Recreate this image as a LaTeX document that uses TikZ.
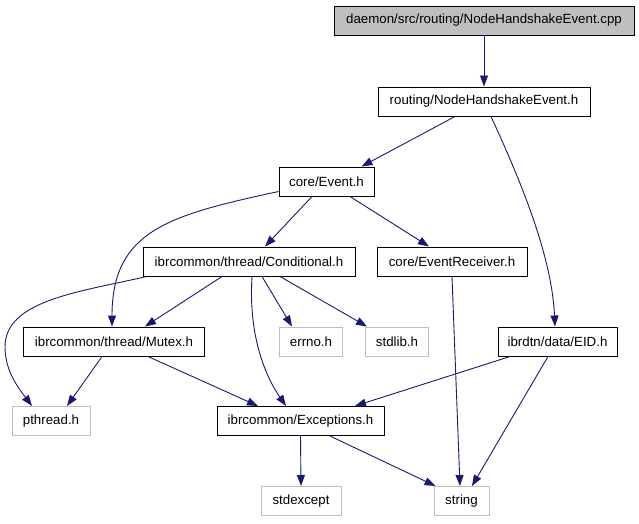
\documentclass[tikz,border=0pt]{standalone}
\usepackage{fontspec}
\setmainfont{Liberation Sans}
\usetikzlibrary{arrows.meta}
\definecolor{edgeblue}{HTML}{191970}
\definecolor{sysgray}{HTML}{BFBFBF}
\tikzset{
  hdr/.style={draw=black, line width=1pt, minimum height=29pt, inner sep=0pt, font=\fontsize{13.3}{15}\selectfont},
  sys/.style={draw=sysgray, line width=1pt, minimum height=29pt, inner sep=0pt, font=\fontsize{13.3}{15}\selectfont},
  root/.style={hdr, fill=sysgray},
  dep/.style={draw=edgeblue, line width=0.9pt, -{Triangle[length=11pt,width=8pt]}},
}
\begin{document}
\begin{tikzpicture}[x=1pt,y=-1pt]
\useasboundingbox (0,0) rectangle (639,523);
\node[root, minimum width=300pt] (cpp) at (484,20.5) {daemon/src/routing/NodeHandshakeEvent.cpp};
\node[hdr, minimum width=212pt] (nhe) at (484,101.5) {routing/NodeHandshakeEvent.h};
\node[hdr, minimum width=95pt] (event) at (326.5,181.5) {core/Event.h};
\node[hdr, minimum width=212pt] (cond) at (249,261.5) {ibrcommon/thread/Conditional.h};
\node[hdr, minimum width=150pt] (recv) at (452,261.5) {core/EventReceiver.h};
\node[hdr, minimum width=181pt] (mutex) at (114,341.5) {ibrcommon/thread/Mutex.h};
\node[sys, minimum width=63pt] (errno) at (311,341.5) {errno.h};
\node[sys, minimum width=63pt] (stdlib) at (397,341.5) {stdlib.h};
\node[hdr, minimum width=119pt] (eid) at (557.5,341.5) {ibrdtn/data/EID.h};
\node[sys, minimum width=78pt] (pthread) at (51,421) {pthread.h};
\node[hdr, minimum width=167pt] (exc) at (300.5,421) {ibrcommon/Exceptions.h};
\node[sys, minimum width=80pt] (stdexcept) at (301,501) {stdexcept};
\node[sys, minimum width=55pt] (string) at (461.5,501) {string};

\draw[dep] (cpp.south) -- (nhe.north);
\draw[dep] ([xshift=-29pt]nhe.south) -- ([xshift=35pt]event.north);
\draw[dep] ([xshift=7pt]nhe.south) .. controls (525,190) and (552,260) .. ([xshift=-2.5pt]eid.north);
\draw[dep] ([xshift=-14.5pt]event.south) -- ([xshift=16pt]cond.north);
\draw[dep] ([xshift=23.5pt]event.south) -- ([xshift=-23pt]recv.north);
\draw[dep] ([yshift=-10pt]event.west) .. controls (170,215) and (112,230) .. ([xshift=-2pt]mutex.north);
\draw[dep] ([xshift=4pt]cond.south west) .. controls (80,292) and (5,300) .. (5,347) .. controls (5,372) and (20,390) .. ([xshift=-19pt]pthread.north);
\draw[dep] ([xshift=-27pt]cond.south) -- ([xshift=31pt]mutex.north);
\draw[dep] ([xshift=3pt]cond.south) .. controls (248,340) and (268,380) .. ([xshift=-14.5pt]exc.north);
\draw[dep] ([xshift=13pt]cond.south) -- ([xshift=-19pt]errno.north);
\draw[dep] ([xshift=31pt]cond.south) -- ([xshift=-30pt]stdlib.north);
\draw[dep] (recv.south) -- ([xshift=-1.5pt]string.north);
\draw[dep] ([xshift=-12pt]mutex.south) -- ([xshift=16pt]pthread.north);
\draw[dep] ([xshift=34pt]mutex.south) -- ([xshift=-42.5pt]exc.north);
\draw[dep] ([xshift=-47.5pt]eid.south) -- ([xshift=54.5pt]exc.north);
\draw[dep] ([xshift=-9.5pt]eid.south) -- ([xshift=10.5pt]string.north);
\draw[dep] (exc.south) -- (stdexcept.north);
\draw[dep] ([xshift=29.5pt]exc.south) -- ([xshift=-26pt]string.north);
\end{tikzpicture}
\end{document}
